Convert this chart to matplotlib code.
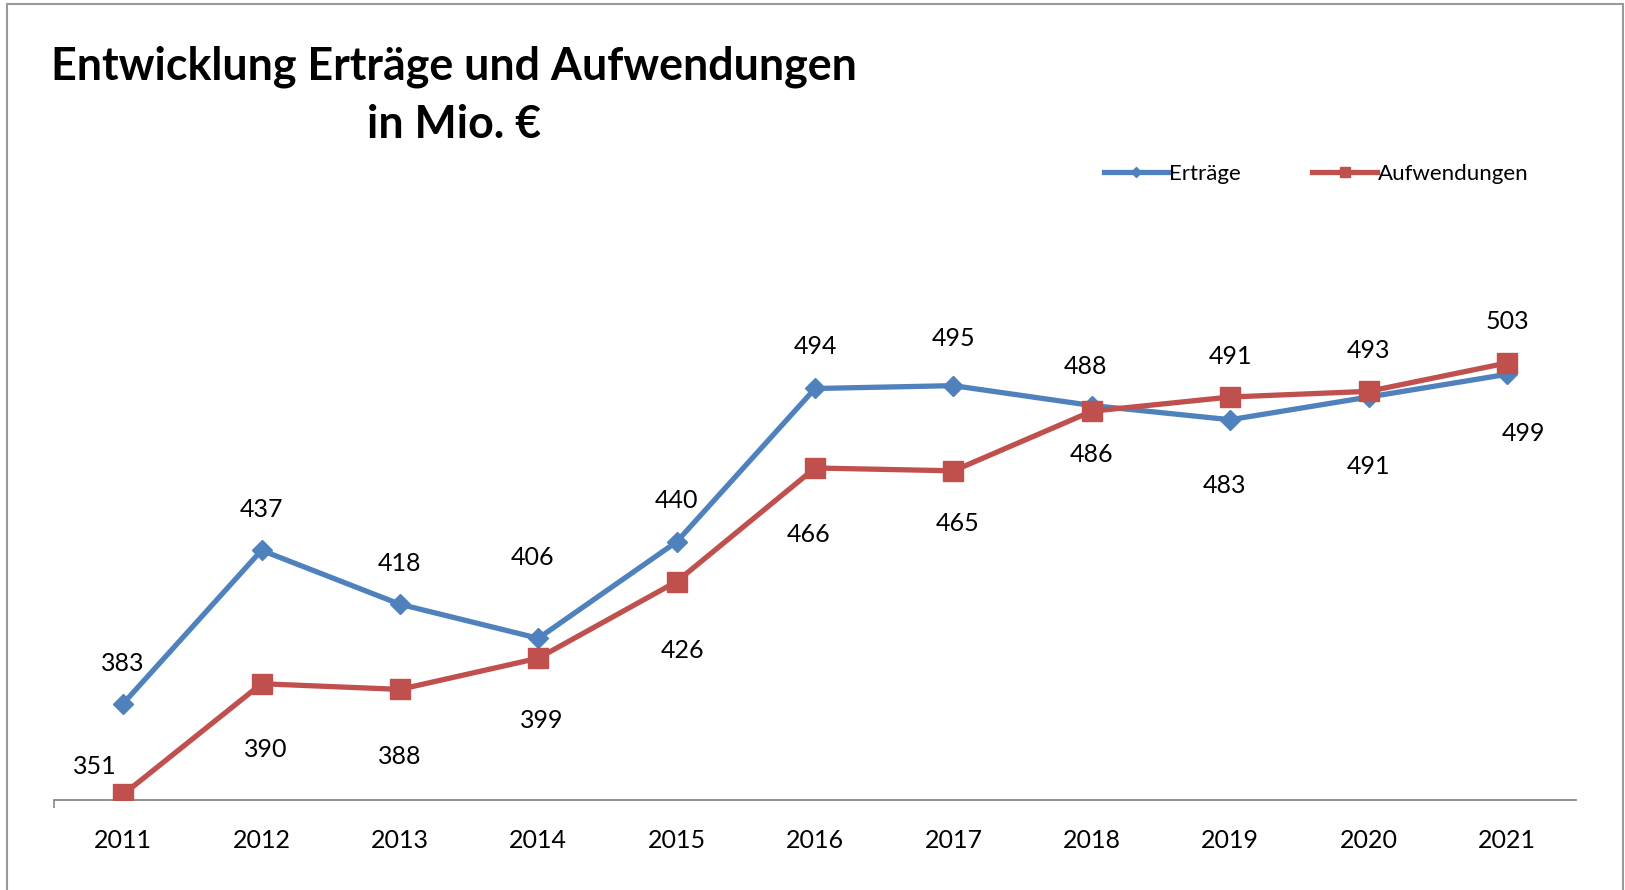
import matplotlib.pyplot as plt
from matplotlib.patches import Rectangle

plt.rcParams['font.family'] = ['Lato', 'DejaVu Sans']

years = ['2011', '2012', '2013', '2014', '2015', '2016', '2017', '2018', '2019', '2020', '2021']
ertraege = [383, 437, 418, 406, 440, 494, 495, 488, 483, 491, 499]
aufwendungen = [351, 390, 388, 399, 426, 466, 465, 486, 491, 493, 503]

# label offsets in pixels (dx, dy), screen y pointing down
off_ertraege = [(0, -40), (0, -41), (0, -41), (-6, -81), (0, -41), (0, -42), (0, -47),
                (-6, -39), (-6, 66), (0, 69), (16, 59)]
off_aufw = [(-28, -28), (4, 66), (0, 67), (3, 62), (6, 69), (-6, 67), (4, 53),
            (0, 43), (0, -41), (0, -41), (0, -41)]

blue = '#4F81BD'
red = '#C0504D'

fig = plt.figure(figsize=(16.25, 8.9), dpi=100)
ax = fig.add_axes([0.0332, 0.101, 0.9368, 0.673])

x = list(range(len(years)))
ax.plot(x, ertraege, color=blue, lw=3.8, marker='D', ms=10, label='Erträge', zorder=3)
ax.plot(x, aufwendungen, color=red, lw=3.8, marker='s', ms=14, label='Aufwendungen', zorder=4)

for xi, v, (dx, dy) in zip(x, ertraege, off_ertraege):
    ax.annotate(str(v), (xi, v), xytext=(dx, -dy), textcoords='offset pixels',
                ha='center', va='center', fontsize=18, color='black')
for xi, v, (dx, dy) in zip(x, aufwendungen, off_aufw):
    ax.annotate(str(v), (xi, v), xytext=(dx, -dy), textcoords='offset pixels',
                ha='center', va='center', fontsize=18, color='black')

ax.set_xlim(-0.5, len(years) - 0.5)
ax.set_ylim(349, 560)
ax.set_xticks(x)
ax.set_xticklabels(years, fontsize=18)
ax.set_xticks([-0.5], minor=True)
ax.tick_params(axis='x', which='major', length=0, pad=20.5)
ax.tick_params(axis='x', which='minor', length=6, width=1.2, color='#888888')
ax.set_yticks([])
for s in ['left', 'right', 'top']:
    ax.spines[s].set_visible(False)
ax.spines['bottom'].set_color('#888888')
ax.spines['bottom'].set_linewidth(1.3)

fig.text(0.2795, 0.9255, 'Entwicklung Erträge und Aufwendungen', fontsize=32.2,
         fontweight='bold', ha='center', va='center')
fig.text(0.2795, 0.8595, 'in Mio. €', fontsize=32.2, fontweight='bold', ha='center', va='center')

fig.legend(loc='center left', bbox_to_anchor=(0.6725, 0.8045), ncol=2, frameon=False,
           fontsize=16, handlelength=2.9, handletextpad=0.05, columnspacing=3.2,
           borderpad=0, markerscale=0.55)

# outer chart border
fig.patches.append(Rectangle((7 / 1625, -0.01), 1616 / 1625, 1.0055,
                             transform=fig.transFigure, fill=False,
                             edgecolor='#9a9a9a', lw=1.5))

fig.savefig('out.png', dpi=100)
